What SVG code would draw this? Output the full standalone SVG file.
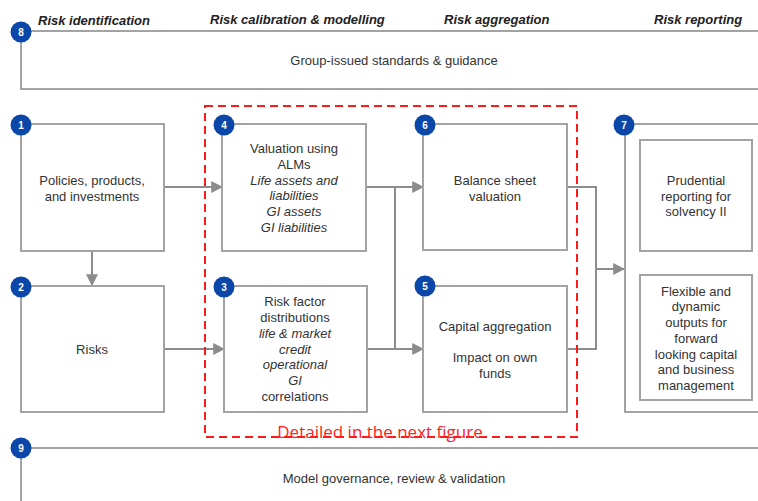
<svg xmlns="http://www.w3.org/2000/svg" width="758" height="501" viewBox="0 0 758 501">
<defs>
<style>
.ln{fill:none;stroke:#a3a3a3;stroke-width:2}
.bx{fill:#ffffff;stroke:#a3a3a3;stroke-width:2}
.cn{fill:none;stroke:#8c8c8c;stroke-width:2}
.bad{fill:#0a47a9}
.num{font-family:"Liberation Sans",Arial,sans-serif;font-size:10px;font-weight:bold;fill:#ffffff;text-anchor:middle}
.hd{font-family:"Liberation Sans",Arial,sans-serif;font-size:13px;font-weight:bold;font-style:italic;fill:#222222}
.t{font-family:"Liberation Sans",Arial,sans-serif;font-size:13px;fill:#333333;text-anchor:middle}
.ti{font-style:italic}
.red{font-family:"Open Sans","Liberation Sans",sans-serif;font-size:17px;fill:#ff2020;text-anchor:middle}
</style>
<marker id="ah" viewBox="0 0 10 10" refX="9" refY="5" markerWidth="12" markerHeight="12" markerUnits="userSpaceOnUse" orient="auto">
<path d="M0,0 L10,5 L0,10 z" fill="#8c8c8c"/>
</marker>
</defs>
<rect width="758" height="501" fill="#ffffff"/>

<g id="headers">
<text class="hd" x="38" y="25">Risk identification</text>
<text class="hd" x="210" y="24">Risk calibration &amp; modelling</text>
<text class="hd" x="444" y="24">Risk aggregation</text>
<text class="hd" x="654" y="24">Risk reporting</text>
</g>

<g id="node8">
<path class="ln" d="M758,31 H21 V89 H758"/>
<text class="t" x="394" y="65">Group-issued standards &amp; guidance</text>
<circle class="bad" cx="21" cy="32" r="10.5"/>
<text class="num" x="21" y="35.5">8</text>
</g>

<g id="connectors">
<line class="cn" x1="92" y1="251" x2="92" y2="285" marker-end="url(#ah)"/>
<line class="cn" x1="164" y1="187" x2="222" y2="187" marker-end="url(#ah)"/>
<line class="cn" x1="164" y1="349" x2="224" y2="349" marker-end="url(#ah)"/>
<path class="cn" d="M366,187 H395 V349"/>
<line class="cn" x1="395" y1="187" x2="423" y2="187" marker-end="url(#ah)"/>
<path class="cn" d="M367,349 H395"/>
<line class="cn" x1="395" y1="349" x2="423" y2="349" marker-end="url(#ah)"/>
<path class="cn" d="M567,187 H596 V349 H567"/>
<line class="cn" x1="596" y1="269" x2="624" y2="269" marker-end="url(#ah)"/>
</g>

<g id="node1">
<rect class="bx" x="21" y="124" width="143" height="127"/>
<text class="t" x="92" y="185">Policies, products,</text>
<text class="t" x="92" y="201">and investments</text>
<circle class="bad" cx="21" cy="125" r="10.5"/>
<text class="num" x="21" y="128.5">1</text>
</g>

<g id="node2">
<rect class="bx" x="21" y="286" width="143" height="126"/>
<text class="t" x="92" y="354">Risks</text>
<circle class="bad" cx="21" cy="287" r="10.5"/>
<text class="num" x="21" y="290.5">2</text>
</g>

<g id="node4">
<rect class="bx" x="222" y="124" width="144" height="127"/>
<text class="t" x="294" y="153">Valuation using</text>
<text class="t" x="294" y="169">ALMs</text>
<text class="t ti" x="294" y="185">Life assets and</text>
<text class="t ti" x="294" y="200">liabilities</text>
<text class="t ti" x="294" y="216">GI assets</text>
<text class="t ti" x="294" y="232">GI liabilities</text>
<circle class="bad" cx="224" cy="125" r="10.5"/>
<text class="num" x="224" y="128.5">4</text>
</g>

<g id="node3">
<rect class="bx" x="224" y="286" width="143" height="126"/>
<text class="t" x="295" y="306">Risk factor</text>
<text class="t" x="295" y="322">distributions</text>
<text class="t ti" x="295" y="338">life &amp; market</text>
<text class="t ti" x="295" y="354">credit</text>
<text class="t ti" x="295" y="369">operational</text>
<text class="t ti" x="295" y="385">GI</text>
<text class="t" x="295" y="401">correlations</text>
<circle class="bad" cx="224" cy="287" r="10.5"/>
<text class="num" x="224" y="290.5">3</text>
</g>

<g id="node6">
<rect class="bx" x="423" y="124" width="144" height="126"/>
<text class="t" x="495" y="185">Balance sheet</text>
<text class="t" x="495" y="201">valuation</text>
<circle class="bad" cx="425" cy="125" r="10.5"/>
<text class="num" x="425" y="128.5">6</text>
</g>

<g id="node5">
<rect class="bx" x="423" y="286" width="144" height="126"/>
<text class="t" x="495" y="331">Capital aggregation</text>
<text class="t" x="495" y="362">Impact on own</text>
<text class="t" x="495" y="378">funds</text>
<circle class="bad" cx="425" cy="286" r="10.5"/>
<text class="num" x="425" y="289.5">5</text>
</g>

<g id="node7">
<path class="ln" d="M758,124 H625 V412 H758"/>
<rect class="bx" x="640" y="140" width="112" height="111"/>
<text class="t" x="696" y="185">Prudential</text>
<text class="t" x="696" y="201">reporting for</text>
<text class="t" x="696" y="216">solvency II</text>
<rect class="bx" x="640" y="275" width="112" height="125"/>
<text class="t" x="696" y="296">Flexible and</text>
<text class="t" x="696" y="311">dynamic</text>
<text class="t" x="696" y="327">outputs for</text>
<text class="t" x="696" y="343">forward</text>
<text class="t" x="696" y="359">looking capital</text>
<text class="t" x="696" y="374">and business</text>
<text class="t" x="696" y="390">management</text>
<circle class="bad" cx="624" cy="125" r="10.5"/>
<text class="num" x="624" y="128.5">7</text>
</g>

<g id="detail-box">
<rect x="205" y="106" width="372" height="331" fill="none" stroke="#ff1a1a" stroke-width="2" stroke-dasharray="8,5"/>
<text class="red" x="380" y="438">Detailed in the next figure</text>
</g>

<g id="node9">
<path class="ln" d="M758,448 H21 V501"/>
<text class="t" x="394" y="483">Model governance, review &amp; validation</text>
<circle class="bad" cx="21" cy="448" r="10.5"/>
<text class="num" x="21" y="451.5">9</text>
</g>
</svg>
